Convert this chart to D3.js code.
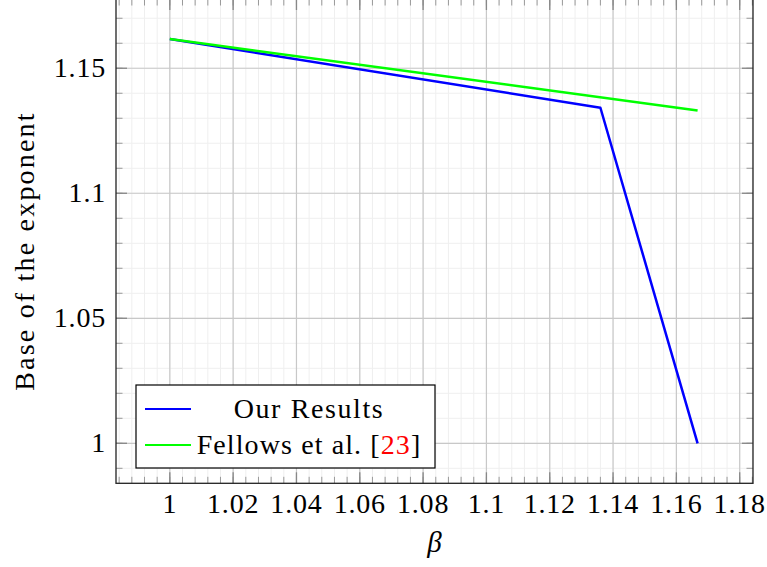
<!DOCTYPE html>
<html><head><meta charset="utf-8">
<script src="https://cdn.jsdelivr.net/npm/d3@7/dist/d3.min.js"></script>
<style>
html,body{margin:0;padding:0;background:#fff;}
svg{display:block;}
</style></head>
<body>
<svg id="chart" width="767" height="567"></svg>
<script>
// ---- data ----
const seriesNames = ["Our Results", "Fellows et al. "];
const ourBeta  = [1, 1.136, 1.1667];
const ourBase  = [1.1617, 1.1342, 1.0];
const felBeta  = [1, 1.1667];
const felBase  = [1.1617, 1.1331];
const xTickValues = [1, 1.02, 1.04, 1.06, 1.08, 1.1, 1.12, 1.14, 1.16, 1.18];
const xTickLabels = ["1", "1.02", "1.04", "1.06", "1.08", "1.1", "1.12", "1.14", "1.16", "1.18"];
const yTickValues = [1, 1.05, 1.1, 1.15];
const yTickLabels = ["1", "1.05", "1.1", "1.15"];
const xLabel = "β";
const yLabel = "Base of the exponent";
const citeNum = "23";

// ---- layout ----
const FONT = "'Liberation Serif', 'DejaVu Serif', serif";
const L = 116, R = 753, T = -1, B = 483.3;
const x = d3.scaleLinear().domain([0.983, 1.1842]).range([L, R]);
const y = d3.scaleLinear().domain([0.984, 1.1777]).range([B, T]);
const svg = d3.select("#chart");

const xMinor = d3.range(0, 51).map(i => +(0.984 + i * 0.004).toFixed(4)).filter(v => x(v) > L + 0.5 && x(v) < R - 0.5);
const yMinor = d3.range(0, 20).map(i => +(0.99 + i * 0.01).toFixed(4)).filter(v => y(v) < B - 0.5 && y(v) > T + 0.5);

const g = svg.append("g");
// minor grid
g.selectAll(".mgx").data(xMinor).join("line")
  .attr("x1", d => x(d)).attr("x2", d => x(d)).attr("y1", T).attr("y2", B)
  .attr("stroke", "#efefef").attr("stroke-width", 1);
g.selectAll(".mgy").data(yMinor).join("line")
  .attr("y1", d => y(d)).attr("y2", d => y(d)).attr("x1", L).attr("x2", R)
  .attr("stroke", "#efefef").attr("stroke-width", 1);
// major grid
g.selectAll(".gx").data(xTickValues).join("line")
  .attr("x1", d => x(d)).attr("x2", d => x(d)).attr("y1", T).attr("y2", B)
  .attr("stroke", "#c8c8c8").attr("stroke-width", 1.2);
g.selectAll(".gy").data(yTickValues).join("line")
  .attr("y1", d => y(d)).attr("y2", d => y(d)).attr("x1", L).attr("x2", R)
  .attr("stroke", "#c8c8c8").attr("stroke-width", 1.2);

// ticks (inward, all four sides)
const minLen = 6.5, majLen = 11;
const tickCol = "#888", minCol = "#999";
[[B, -1], [T, 1]].forEach(([yy, dir]) => {
  g.selectAll(null).data(xMinor).join("line")
    .attr("x1", d => x(d)).attr("x2", d => x(d)).attr("y1", yy).attr("y2", yy + dir * minLen)
    .attr("stroke", minCol).attr("stroke-width", 1);
  g.selectAll(null).data(xTickValues).join("line")
    .attr("x1", d => x(d)).attr("x2", d => x(d)).attr("y1", yy).attr("y2", yy + dir * majLen)
    .attr("stroke", tickCol).attr("stroke-width", 1.3);
});
[[L, 1], [R, -1]].forEach(([xx, dir]) => {
  g.selectAll(null).data(yMinor).join("line")
    .attr("y1", d => y(d)).attr("y2", d => y(d)).attr("x1", xx).attr("x2", xx + dir * minLen)
    .attr("stroke", minCol).attr("stroke-width", 1);
  g.selectAll(null).data(yTickValues).join("line")
    .attr("y1", d => y(d)).attr("y2", d => y(d)).attr("x1", xx).attr("x2", xx + dir * majLen)
    .attr("stroke", tickCol).attr("stroke-width", 1.3);
});

// series
const line = d3.line().x(d => x(d[0])).y(d => y(d[1]));
svg.append("path").datum(d3.zip(ourBeta, ourBase)).attr("d", line)
  .attr("fill", "none").attr("stroke", "#0000ff").attr("stroke-width", 2.5).attr("stroke-linejoin", "round");
svg.append("path").datum(d3.zip(felBeta, felBase)).attr("d", line)
  .attr("fill", "none").attr("stroke", "#00ff00").attr("stroke-width", 2.5);

// frame
svg.append("rect").attr("x", L).attr("y", T).attr("width", R - L).attr("height", B - T)
  .attr("fill", "none").attr("stroke", "#222").attr("stroke-width", 1.3);

// tick labels
const fs = 28;
svg.selectAll(".xl").data(xTickValues).join("text")
  .attr("x", d => x(d)).attr("y", 513).attr("text-anchor", "middle")
  .attr("font-family", FONT).attr("font-size", fs).style("letter-spacing", "0.8px")
  .text((d, i) => xTickLabels[i]);
svg.selectAll(".yl").data(yTickValues).join("text")
  .attr("x", 106).attr("y", d => y(d) + 8.5).attr("text-anchor", "end")
  .attr("font-family", FONT).attr("font-size", fs).style("letter-spacing", "0.8px")
  .text((d, i) => yTickLabels[i]);

// axis labels
svg.append("text").attr("x", (L + R) / 2).attr("y", 552).attr("text-anchor", "middle")
  .attr("font-family", FONT).attr("font-size", 29).attr("font-style", "italic").text(xLabel);
svg.append("text").attr("transform", "translate(34,251) rotate(-90)").attr("text-anchor", "middle")
  .attr("font-family", FONT).attr("font-size", 28).style("letter-spacing", "2.2px").text(yLabel);

// legend
const lg = svg.append("g");
lg.append("rect").attr("x", 136).attr("y", 385).attr("width", 299).attr("height", 83)
  .attr("fill", "#fff").attr("stroke", "#000").attr("stroke-width", 1.2);
const legendRows = [
  {name: seriesNames[0], color: "#0000ff", cy: 409, ls: "1.6px"},
  {name: seriesNames[1], color: "#00ff00", cy: 445, cite: citeNum, ls: "1.1px"}
];
legendRows.forEach(r => {
  lg.append("line").attr("x1", 145).attr("x2", 191).attr("y1", r.cy).attr("y2", r.cy)
    .attr("stroke", r.color).attr("stroke-width", 2.2);
  const t = lg.append("text").attr("x", 309).attr("y", r.cy + 8.5).attr("text-anchor", "middle")
    .attr("font-family", FONT).attr("font-size", fs).style("letter-spacing", r.ls);
  t.append("tspan").text(r.name);
  if (r.cite) {
    t.append("tspan").text("[");
    t.append("tspan").attr("fill", "#ff0000").text(r.cite);
    t.append("tspan").text("]");
  }
});
</script>
</body></html>
